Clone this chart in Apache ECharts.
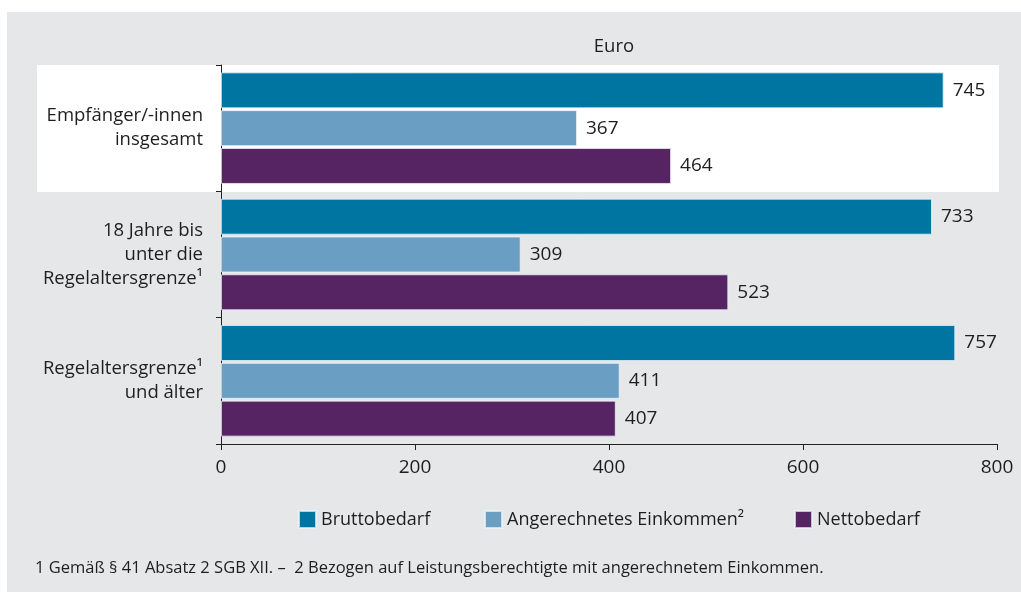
<!DOCTYPE html>
<html>
<head>
<meta charset="utf-8">
<script src="https://cdn.jsdelivr.net/npm/echarts@6/dist/echarts.min.js"></script>
<style>
  html, body { margin: 0; padding: 0; background: #ffffff; }
  #chart { width: 1021px; height: 592px; }
</style>
</head>
<body>
<div id="chart"></div>
<script>
const categories = [
  'Empfänger/-innen\ninsgesamt',
  '18 Jahre bis\nunter die\nRegelaltersgrenze¹',
  'Regelaltersgrenze¹\nund älter'
];
const seriesNames = ['Bruttobedarf', 'Angerechnetes Einkommen²', 'Nettobedarf'];
const bruttobedarf = [745, 733, 757];
const angerechnet = [367, 309, 411];
const nettobedarf = [464, 523, 407];
const xTicks = [0, 200, 400, 600, 800];
const axisName = 'Euro';
const footnote = '1 Gemäß § 41 Absatz 2 SGB XII. –  2 Bezogen auf Leistungsberechtigte mit angerechnetem Einkommen.';

const colors = ['#0075a2', '#6b9ec3', '#562363'];
const FONT = '"Open Sans", "Noto Sans", sans-serif';
const TXT = '#1e1e1e';

const chart = echarts.init(document.getElementById('chart'));

function mkSeries(name, data, color) {
  return {
    name: name,
    type: 'bar',
    data: data,
    barWidth: 36,
    barGap: '5%',
    itemStyle: { color: color, borderColor: 'rgba(235,244,250,0.75)', borderWidth: 1 },
    label: {
      show: true, position: 'right', distance: 9,
      fontFamily: FONT, fontSize: 19, color: TXT
    },
    emphasis: { disabled: true },
    animation: false
  };
}

const legendBase = {
  icon: 'rect', itemWidth: 17, itemHeight: 17, itemGap: 10,
  top: 505,
  textStyle: { fontFamily: FONT, fontSize: 18, color: TXT, padding: [0, 0, 0, 0] },
  selectedMode: false
};

chart.setOption({
  backgroundColor: '#ffffff',
  animation: false,
  color: colors,
  graphic: [
    { type: 'rect', z: -10, silent: true, shape: { x: 7, y: 12, width: 1014, height: 580 }, style: { fill: '#e6e7e9' } },
    { type: 'rect', z: -9, silent: true, shape: { x: 37, y: 65, width: 962, height: 127 }, style: { fill: '#ffffff' } },
    { type: 'text', silent: true, left: 35, top: 560, style: { text: footnote, font: '16.5px ' + FONT, fill: TXT } }
  ],
  title: {
    text: axisName, left: 609, top: 32, textAlign: 'center',
    textStyle: { fontFamily: FONT, fontSize: 18.5, fontWeight: 'normal', color: TXT }
  },
  legend: [
    Object.assign({}, legendBase, { left: 293, data: [seriesNames[0]] }),
    Object.assign({}, legendBase, { left: 479, data: [seriesNames[1]] }),
    Object.assign({}, legendBase, { left: 789, data: [seriesNames[2]] })
  ],
  grid: { left: 221, right: 24, top: 65, bottom: 148, containLabel: false },
  xAxis: {
    type: 'value', min: 0, max: 800, interval: 200,
    axisLine: { show: true, lineStyle: { color: '#222', width: 1 } },
    axisTick: { show: true, length: 6, lineStyle: { color: '#222' } },
    splitLine: { show: false },
    axisLabel: {
      fontFamily: FONT, fontSize: 19, color: TXT, margin: 14,
      customValues: xTicks,
      formatter: v => String(v)
    }
  },
  yAxis: {
    type: 'category', data: categories, inverse: true,
    axisLine: { show: true, lineStyle: { color: '#222', width: 1 } },
    axisTick: { show: true, length: 5, lineStyle: { color: '#222' } },
    splitLine: { show: false },
    axisLabel: {
      fontFamily: FONT, fontSize: 18.5, color: TXT, margin: 18,
      align: 'right', lineHeight: 24
    }
  },
  series: [
    mkSeries(seriesNames[0], bruttobedarf, colors[0]),
    mkSeries(seriesNames[1], angerechnet, colors[1]),
    mkSeries(seriesNames[2], nettobedarf, colors[2])
  ]
});
</script>
</body>
</html>
